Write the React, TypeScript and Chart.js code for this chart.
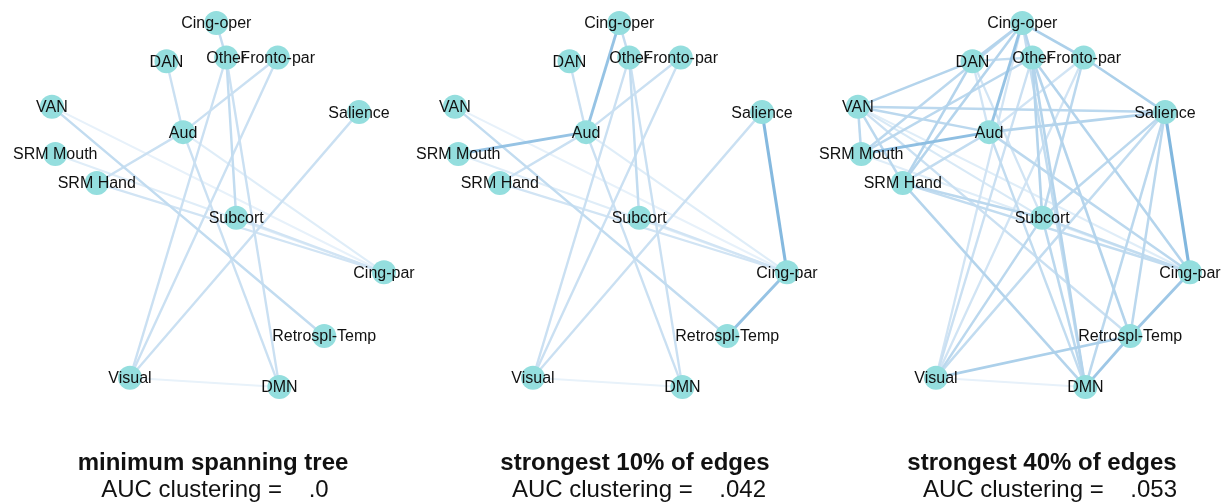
import React, { useEffect, useRef } from "react";
import { Chart, registerables } from "chart.js";

Chart.register(...registerables);

// ---- data ----
const nodeNames = [
  "Cing-oper", "DAN", "Other", "Fronto-par", "VAN", "Salience", "Aud",
  "SRM Mouth", "SRM Hand", "Subcort", "Cing-par", "Retrospl-Temp", "Visual", "DMN",
];
// layout coordinates (graph layout, unit space)
const nodeX = [-0.01, -0.31, 0.05, 0.36, -1.0, 0.85, -0.21, -0.98, -0.73, 0.11, 1.0, 0.64, -0.53, 0.37];
const nodeY = [1.0, 0.79, 0.81, 0.81, 0.54, 0.51, 0.4, 0.28, 0.12, -0.07, -0.37, -0.72, -0.95, -1.0];

type Edge = [string, string, number];

const mstEdges: Edge[] = [
  ["Cing-oper", "Other", 0.3],
  ["DAN", "Aud", 0.25],
  ["Fronto-par", "Aud", 0.25],
  ["Aud", "SRM Hand", 0.25],
  ["Other", "Subcort", 0.3],
  ["Other", "Visual", 0.25],
  ["Other", "DMN", 0.25],
  ["Fronto-par", "Visual", 0.25],
  ["Salience", "Visual", 0.25],
  ["Aud", "DMN", 0.25],
  ["Aud", "Cing-par", 0.1],
  ["VAN", "Cing-par", 0.05],
  ["VAN", "Retrospl-Temp", 0.3],
  ["SRM Mouth", "Cing-par", 0.1],
  ["SRM Hand", "Cing-par", 0.2],
  ["Subcort", "Cing-par", 0.2],
  ["Visual", "DMN", 0.04],
];

const top10Edges: Edge[] = [
  ...mstEdges,
  ["Cing-oper", "Aud", 0.6],
  ["SRM Mouth", "Aud", 0.6],
  ["Salience", "Cing-par", 0.72],
  ["Cing-par", "Retrospl-Temp", 0.6],
];

const top40Edges: Edge[] = [
  ["Cing-oper", "DAN", 0.4],
  ["Cing-oper", "Other", 0.4],
  ["Cing-oper", "Fronto-par", 0.45],
  ["Cing-oper", "Aud", 0.6],
  ["Cing-oper", "SRM Hand", 0.4],
  ["Cing-oper", "SRM Mouth", 0.35],
  ["Cing-oper", "DMN", 0.3],
  ["Cing-oper", "Visual", 0.2],
  ["Fronto-par", "Salience", 0.45],
  ["DAN", "Other", 0.3],
  ["DAN", "VAN", 0.4],
  ["DAN", "SRM Hand", 0.4],
  ["DAN", "Aud", 0.2],
  ["DAN", "Subcort", 0.2],
  ["Other", "SRM Mouth", 0.35],
  ["VAN", "Salience", 0.35],
  ["VAN", "Aud", 0.35],
  ["VAN", "SRM Mouth", 0.35],
  ["VAN", "SRM Hand", 0.35],
  ["VAN", "Subcort", 0.15],
  ["VAN", "Cing-par", 0.1],
  ["VAN", "Retrospl-Temp", 0.25],
  ["Aud", "SRM Mouth", 0.65],
  ["Aud", "SRM Hand", 0.3],
  ["Aud", "Salience", 0.4],
  ["Aud", "Fronto-par", 0.2],
  ["Aud", "Cing-par", 0.35],
  ["Aud", "DMN", 0.3],
  ["Other", "Subcort", 0.4],
  ["Other", "DMN", 0.4],
  ["Other", "Retrospl-Temp", 0.4],
  ["Other", "Cing-par", 0.4],
  ["Other", "Visual", 0.25],
  ["Fronto-par", "Visual", 0.2],
  ["Fronto-par", "Subcort", 0.35],
  ["Salience", "Visual", 0.3],
  ["Salience", "Subcort", 0.35],
  ["Salience", "Cing-par", 0.75],
  ["Salience", "Retrospl-Temp", 0.35],
  ["Salience", "DMN", 0.35],
  ["SRM Hand", "Subcort", 0.35],
  ["SRM Hand", "Cing-par", 0.3],
  ["SRM Hand", "DMN", 0.4],
  ["SRM Mouth", "Cing-par", 0.1],
  ["Subcort", "Cing-par", 0.3],
  ["Subcort", "Visual", 0.35],
  ["Subcort", "DMN", 0.35],
  ["Cing-par", "Retrospl-Temp", 0.55],
  ["Retrospl-Temp", "Visual", 0.45],
  ["Retrospl-Temp", "DMN", 0.55],
  ["Visual", "DMN", 0.05],
];

const panelEdges = [mstEdges, top10Edges, top40Edges];
const panelTitles = ["minimum spanning tree", "strongest 10% of edges", "strongest 40% of edges"];
const aucValues = [".0", ".042", ".053"];

// ---- layout / style constants ----
const W = 1221;
const H = 502;
const X_MIN = -1.313;
const X_MAX = X_MIN + W / 166;
const Y_MAX = 1.126;
const Y_MIN = Y_MAX - H / 182;
const PANEL_SHIFT = 403 / 166;
const NODE_COLOR = "#94dede";
const title1Centers = [213, 635, 1042];
const title2Centers = [215, 639, 1050];

function edgeColor(w: number) {
  const a = [238, 245, 252];
  const b = [92, 162, 212];
  const c = a.map((v, i) => Math.round(v + (b[i] - v) * w));
  return `rgb(${c[0]},${c[1]},${c[2]})`;
}

const idx = (n: string) => nodeNames.indexOf(n);

export default function App() {
  const ref = useRef<HTMLCanvasElement>(null);

  useEffect(() => {
    if (!ref.current) return;
    const datasets: any[] = [];
    panelEdges.forEach((edges, p) => {
      const off = p * PANEL_SHIFT;
      edges.forEach(([a, b, w]) => {
        const i = idx(a);
        const j = idx(b);
        datasets.push({
          type: "line",
          data: [
            { x: nodeX[i] + off, y: nodeY[i] },
            { x: nodeX[j] + off, y: nodeY[j] },
          ],
          borderColor: edgeColor(w),
          borderWidth: 2 + 1.5 * w,
          pointRadius: 0,
          fill: false,
          order: 10 - w,
        });
      });
    });
    panelEdges.forEach((_, p) => {
      const off = p * PANEL_SHIFT;
      datasets.push({
        type: "scatter",
        data: nodeNames.map((_, i) => ({ x: nodeX[i] + off, y: nodeY[i] })),
        backgroundColor: NODE_COLOR,
        borderWidth: 0,
        pointRadius: 12,
        order: 1,
      });
    });

    const labelPlugin = {
      id: "nodeLabels",
      afterDatasetsDraw(chart: any) {
        const ctx = chart.ctx;
        const xs = chart.scales.x;
        const ys = chart.scales.y;
        ctx.save();
        ctx.font = "16px 'Liberation Sans', Arial, sans-serif";
        ctx.fillStyle = "#111";
        ctx.textAlign = "center";
        ctx.textBaseline = "middle";
        panelEdges.forEach((_, p) => {
          const off = p * PANEL_SHIFT;
          nodeNames.forEach((n, i) => {
            ctx.fillText(n, xs.getPixelForValue(nodeX[i] + off), ys.getPixelForValue(nodeY[i]) + 1);
          });
        });
        ctx.restore();
      },
    };

    const chart = new Chart(ref.current, {
      type: "scatter",
      data: { datasets },
      options: {
        animation: false,
        responsive: false,
        layout: { padding: 0, autoPadding: false },
        scales: {
          x: { type: "linear", min: X_MIN, max: X_MAX, display: false },
          y: { type: "linear", min: Y_MIN, max: Y_MAX, display: false },
        },
        plugins: { legend: { display: false }, tooltip: { enabled: false } },
        elements: { line: { tension: 0 } },
      },
      plugins: [labelPlugin],
    } as any);
    return () => chart.destroy();
  }, []);

  return (
    <div style={{ position: "absolute", left: 0, top: 0, width: W, height: H, background: "#fff", overflow: "hidden" }}>
      <canvas ref={ref} width={W} height={H} style={{ position: "absolute", left: 0, top: 0 }} />
      {panelTitles.map((t, i) => (
        <React.Fragment key={i}>
          <div
            style={{
              position: "absolute",
              left: title1Centers[i],
              top: 450,
              transform: "translateX(-50%)",
              font: "bold 24px 'Liberation Sans', Arial, sans-serif",
              lineHeight: "24px",
              whiteSpace: "pre",
              color: "#111",
            }}
          >
            {t}
          </div>
          <div
            style={{
              position: "absolute",
              left: title2Centers[i],
              top: 477,
              transform: "translateX(-50%)",
              font: "24px 'Liberation Sans', Arial, sans-serif",
              lineHeight: "24px",
              whiteSpace: "pre",
              color: "#111",
            }}
          >
            {"AUC clustering =    " + aucValues[i]}
          </div>
        </React.Fragment>
      ))}
    </div>
  );
}
